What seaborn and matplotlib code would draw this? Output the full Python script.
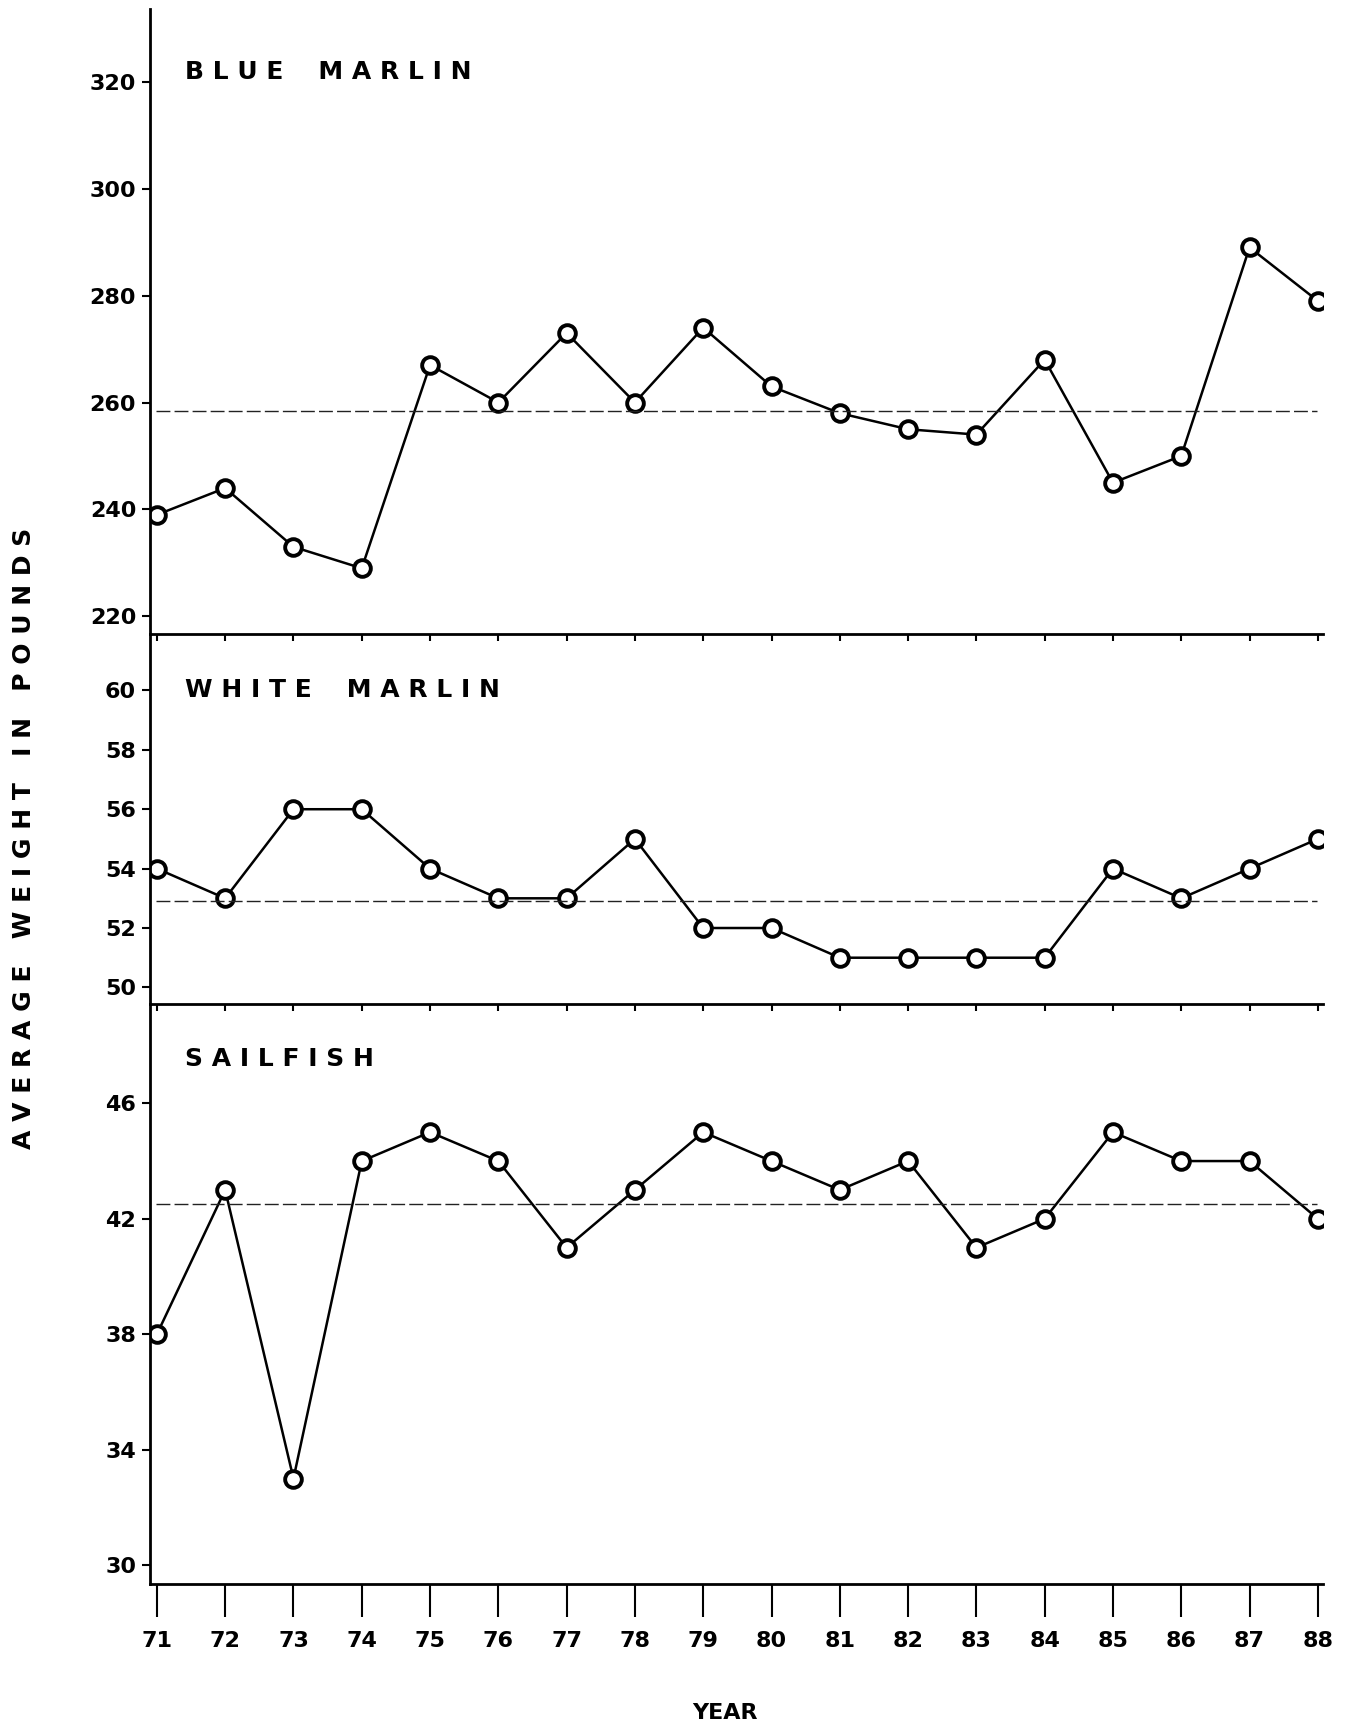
import matplotlib
matplotlib.use("Agg")
import matplotlib.pyplot as plt
import seaborn as sns
import pandas as pd

years = list(range(71, 89))
blue_marlin = [239, 244, 233, 229, 267, 260, 273, 260, 274, 263, 258, 255, 254, 268, 245, 250, 289, 279]
white_marlin = [54, 53, 56, 56, 54, 53, 53, 55, 52, 52, 51, 51, 51, 51, 54, 53, 54, 55]
sailfish = [38, 43, 33, 44, 45, 44, 41, 43, 45, 44, 43, 44, 41, 42, 45, 44, 44, 42]
mean_lines = [258.5, 52.9, 42.5]
titles = ["B L U E    M A R L I N", "W H I T E    M A R L I N", "S A I L F I S H"]
yticks = [[220, 240, 260, 280, 300, 320], [50, 52, 54, 56, 58, 60], [30, 34, 38, 42, 46]]
ylims = [(216.7, 333.6), (49.44, 61.9), (29.35, 49.44)]

sns.set_theme(style="white")
plt.rcParams['font.family'] = ['DejaVu Sans']
plt.rcParams['text.color'] = 'black'
plt.rcParams['xtick.color'] = 'black'
plt.rcParams['ytick.color'] = 'black'
plt.rcParams['axes.labelcolor'] = 'black'

fig = plt.figure(figsize=(13.47, 17.29), dpi=100)
left, width = 0.1114, 0.871
boxes = [(0.6333, 0.3615), (0.4193, 0.2140), (0.0839, 0.3354)]
series = [blue_marlin, white_marlin, sailfish]
title_y = [0.899, 0.848, 0.905]

for i, (b, h) in enumerate(boxes):
    ax = fig.add_axes([left, b, width, h])
    ax.set_zorder(10 - i)
    ax.patch.set_alpha(0)
    df = pd.DataFrame({"year": years, "w": series[i]})
    sns.lineplot(data=df, x="year", y="w", ax=ax, color="black", linewidth=1.8,
                 marker="o", markersize=12, markerfacecolor="white",
                 markeredgecolor="black", markeredgewidth=2.8)
    ax.axhline(mean_lines[i], xmin=0.005, xmax=0.995, color="#222222", linewidth=1.0,
               linestyle=(0, (10, 3)))
    ax.set_xlim(70.9, 88.08)
    ax.set_ylim(*ylims[i])
    ax.set_yticks(yticks[i])
    ax.set_yticklabels([str(v) for v in yticks[i]], fontsize=16, fontweight="bold")
    ax.set_xticks(years)
    for s in ["top", "right"]:
        ax.spines[s].set_visible(False)
    for s in ["left", "bottom"]:
        ax.spines[s].set_color("black")
        ax.spines[s].set_linewidth(2.0)
    ax.tick_params(axis="y", direction="out", length=6, width=1.5, colors="black", pad=4, left=True)
    if i < 2:
        ax.tick_params(axis="x", direction="out", length=5, width=1.5, colors="black",
                       labelbottom=False, bottom=True)
    else:
        ax.tick_params(axis="x", direction="out", length=24, width=1.5, colors="black",
                       bottom=True, pad=10)
        ax.set_xticklabels([str(y) for y in years], fontsize=16, fontweight="bold")
    ax.set_xlabel("")
    ax.set_ylabel("")
    ax.grid(False)
    ax.text(0.03, title_y[i], titles[i], transform=ax.transAxes, color="black",
            fontsize=18, fontweight="heavy", va="center", ha="left")

fig.text(0.538, 0.0095, "YEAR", ha="center", va="center", fontsize=16, fontweight="bold",
         color="black")
fig.text(0.018, 0.515, "A V E R A G E   W E I G H T   I N   P O U N D S", rotation=90,
         ha="center", va="center", fontsize=18, fontweight="heavy", color="black")

fig.savefig("out.png", dpi=100, facecolor="white")
